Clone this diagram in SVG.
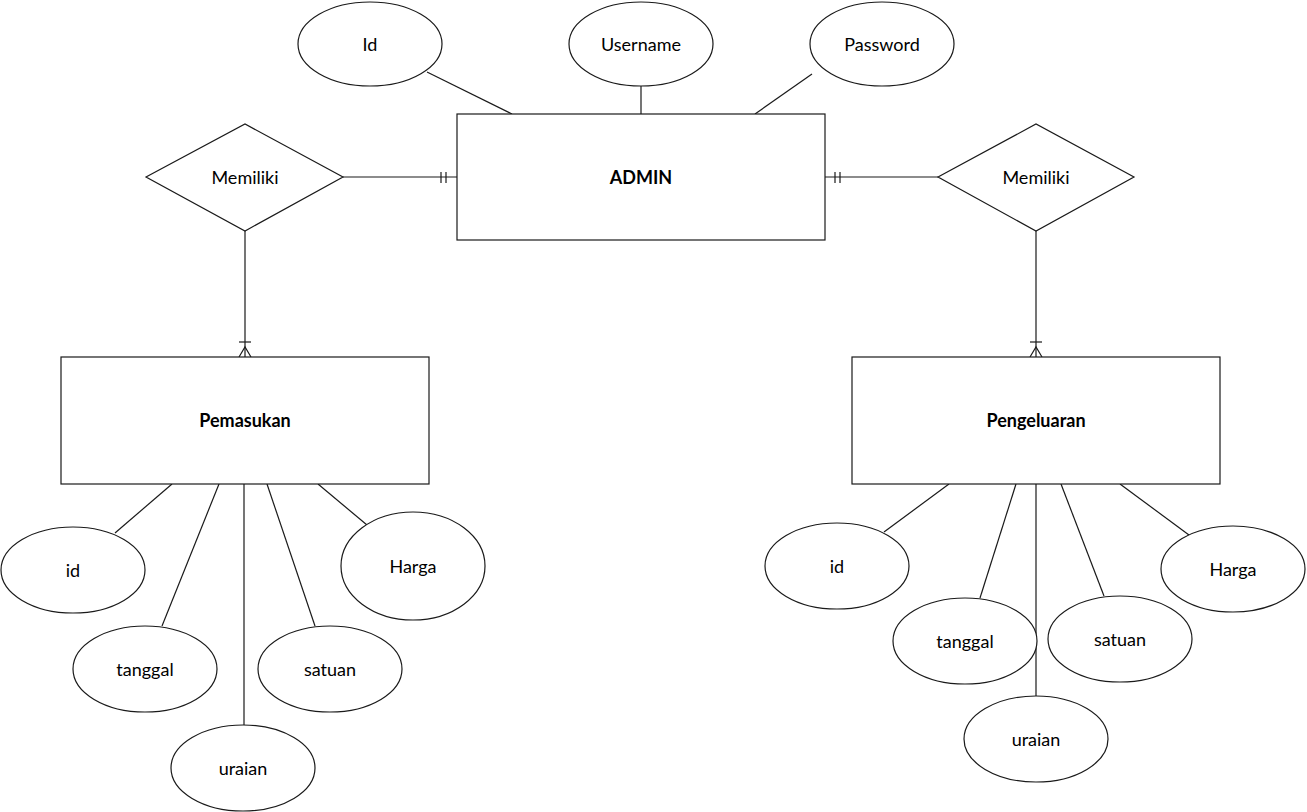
<svg xmlns="http://www.w3.org/2000/svg" width="1307" height="812" viewBox="0 0 1307 812">
<style>
.s{fill:#fff;stroke:#1a1a1a;stroke-width:1.2}
.c line{stroke:#1a1a1a;stroke-width:1.2}
.c path{fill:none;stroke:#1a1a1a;stroke-width:1.2}
text{font-family:Lato,"Open Sans","Liberation Sans",sans-serif;font-size:18px;fill:#000;text-anchor:middle;dominant-baseline:central}
.b{font-weight:bold}
</style>
<rect width="1307" height="812" fill="#fff"/>
<g class="c" id="connectors">
<line x1="427" y1="72" x2="512" y2="114"/>
<line x1="641" y1="86" x2="641" y2="114"/>
<line x1="812" y1="74" x2="755" y2="114"/>
<line x1="343" y1="177" x2="457" y2="177"/>
<line x1="441" y1="172" x2="441" y2="183"/>
<line x1="446" y1="172" x2="446" y2="183"/>
<line x1="825" y1="177" x2="938" y2="177"/>
<line x1="835" y1="172" x2="835" y2="183"/>
<line x1="840" y1="172" x2="840" y2="183"/>
<line x1="245" y1="231" x2="245" y2="357"/>
<line x1="239" y1="342" x2="251" y2="342"/>
<path d="M239 357 L245 347 L251 357"/>
<line x1="1036" y1="231" x2="1036" y2="357"/>
<line x1="1030" y1="342" x2="1042" y2="342"/>
<path d="M1030 357 L1036 347 L1042 357"/>
<line x1="172" y1="484" x2="115" y2="533"/>
<line x1="219" y1="484" x2="162" y2="626"/>
<line x1="244" y1="484" x2="244" y2="725"/>
<line x1="267" y1="484" x2="315" y2="626"/>
<line x1="318" y1="484" x2="367" y2="525"/>
<line x1="949" y1="484" x2="884" y2="532"/>
<line x1="1016" y1="484" x2="980" y2="598"/>
<line x1="1036" y1="484" x2="1036" y2="696"/>
<line x1="1061" y1="484" x2="1104" y2="596"/>
<line x1="1120" y1="484" x2="1189" y2="535"/>
</g>
<g id="admin"><rect class="s" x="457" y="114" width="368" height="126"/><text class="b" x="641" y="177">ADMIN</text></g>
<g id="admin-id"><ellipse class="s" cx="370" cy="44" rx="72" ry="42"/><text x="370" y="44">Id</text></g>
<g id="admin-username"><ellipse class="s" cx="641" cy="44" rx="72" ry="42"/><text x="641" y="44">Username</text></g>
<g id="admin-password"><ellipse class="s" cx="882" cy="44" rx="72" ry="42"/><text x="882" y="44">Password</text></g>
<g id="rel-left"><polygon class="s" points="146,177 245,124 343,177 245,231"/><text x="245" y="177">Memiliki</text></g>
<g id="rel-right"><polygon class="s" points="938,177 1036,124 1134,177 1036,231"/><text x="1036" y="177">Memiliki</text></g>
<g id="pemasukan"><rect class="s" x="61" y="357" width="368" height="127"/><text class="b" x="245" y="420">Pemasukan</text></g>
<g id="pengeluaran"><rect class="s" x="852" y="357" width="368" height="127"/><text class="b" x="1036" y="420">Pengeluaran</text></g>
<g id="pm-id"><ellipse class="s" cx="73" cy="570" rx="72" ry="43"/><text x="73" y="570">id</text></g>
<g id="pm-tanggal"><ellipse class="s" cx="145" cy="669" rx="72" ry="43"/><text x="145" y="669">tanggal</text></g>
<g id="pm-uraian"><ellipse class="s" cx="243" cy="768" rx="72" ry="43"/><text x="243" y="768">uraian</text></g>
<g id="pm-satuan"><ellipse class="s" cx="330" cy="669" rx="72" ry="43"/><text x="330" y="669">satuan</text></g>
<g id="pm-harga"><ellipse class="s" cx="413" cy="566" rx="72" ry="54"/><text x="413" y="566">Harga</text></g>
<g id="pg-id"><ellipse class="s" cx="837" cy="566" rx="72" ry="43"/><text x="837" y="566">id</text></g>
<g id="pg-tanggal"><ellipse class="s" cx="965" cy="641" rx="72" ry="43"/><text x="965" y="641">tanggal</text></g>
<g id="pg-uraian"><ellipse class="s" cx="1036" cy="739" rx="72" ry="43"/><text x="1036" y="739">uraian</text></g>
<g id="pg-satuan"><ellipse class="s" cx="1120" cy="639" rx="72" ry="43"/><text x="1120" y="639">satuan</text></g>
<g id="pg-harga"><ellipse class="s" cx="1233" cy="569" rx="72" ry="43"/><text x="1233" y="569">Harga</text></g>
</svg>
